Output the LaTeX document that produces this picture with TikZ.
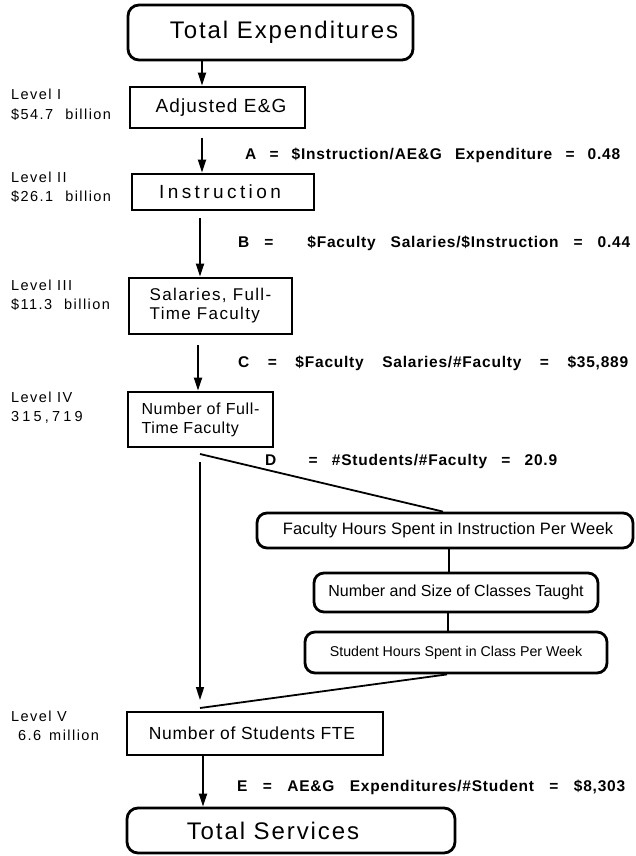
\documentclass[tikz,border=0pt]{standalone}
\usepackage{fontspec}
\setmainfont{Liberation Sans}
\usetikzlibrary{arrows.meta}
\newcommand\fsz[2]{\fontsize{#1}{#2}\selectfont}
\newcommand\lsp[1]{\addfontfeatures{LetterSpace=#1}}
\begin{document}
\begin{tikzpicture}[x=1pt,y=-1pt,
  box/.style={draw, line width=2.8pt, inner sep=0pt},
  rbox/.style={box, rounded corners=11pt},
  arr/.style={line width=2pt, -{Triangle[length=13pt,width=8pt]}},
  conn/.style={line width=1.8pt},
  thinconn/.style={line width=1.3pt},
  lvl/.style={anchor=west, inner sep=0pt, align=left, font=\fsz{14.5}{19.5}\lsp{10}},
  eq/.style={anchor=west, inner sep=0pt, font=\fsz{15.5}{18}\bfseries\lsp{5}}]
\useasboundingbox (0,0) rectangle (635,856);

% main boxes
\node[rbox, minimum width=285pt, minimum height=55pt, font=\fsz{24}{28}\lsp{8}] (te) at (270.5,32.5)
  {\hspace*{27pt}Total Expenditures};
\node[box, minimum width=175pt, minimum height=41pt, font=\fsz{19}{22}\lsp{6}] (adj) at (217.5,107.5)
  {\hspace*{7pt}Adjusted E\&G};
\node[box, minimum width=182pt, minimum height=36pt, font=\fsz{19}{22}\lsp{18}] (instr) at (223,192)
  {Instruction\hspace*{6pt}};
\node[box, minimum width=163pt, minimum height=56pt, align=left, font=\fsz{17}{19}\lsp{8}] (sal) at (210.5,306)
  {Salaries, Full-\\Time Faculty};
\node[box, minimum width=145pt, minimum height=55pt, align=left, font=\fsz{16}{19}\lsp{4}] (nftf) at (200.5,419.5)
  {Number of Full-\\Time Faculty};
\node[rbox, rounded corners=10pt, minimum width=376pt, minimum height=35pt, font=\fsz{16.5}{19}\lsp{1}] (fh) at (445,530.5)
  {\hspace*{6pt}Faculty Hours Spent in Instruction Per Week};
\node[rbox, rounded corners=10pt, minimum width=284pt, minimum height=39pt, font=\fsz{16}{19}] (ns) at (456,592.5)
  {Number and Size of Classes Taught};
\node[rbox, rounded corners=10pt, minimum width=302pt, minimum height=41pt, font=\fsz{14.2}{17}] (sh) at (456,652.5)
  {Student Hours Spent in Class Per Week};
\node[box, minimum width=256pt, minimum height=43pt, font=\fsz{17.5}{20}\lsp{4}] (nos) at (255,733.5)
  {Number of Students FTE\hspace*{6pt}};
\node[rbox, minimum width=328pt, minimum height=45pt, font=\fsz{24}{28}\lsp{8}] (ts) at (291,830.5)
  {Total Services\hspace*{36pt}};

% level labels
\node[lvl] (lv1) at (11,104.5) {Level I\\\$54.7\hspace{12pt}billion};
\node[lvl] (lv2) at (11,187) {Level II\\\$26.1\hspace{12pt}billion};
\node[lvl] (lv3) at (11,295) {Level III\\\$11.3\hspace{12pt}billion};
\node[lvl] (lv4) at (11,407.5) {Level IV\\{\lsp{22}315,719}};
\node[lvl] (lv5) at (11,726) {Level V\\\hspace*{7pt}6.6\hspace{8pt}million};

% ratio labels
\node[eq] (la) at (245,155) {\makebox[375pt][s]{A = \$Instruction/AE\&G Expenditure = 0.48}};
\node[eq] (lb) at (238,243) {\makebox[392pt][s]{B = \hspace{4pt} \$Faculty Salaries/\$Instruction = 0.44}};
\node[eq] (lc) at (238,363) {\makebox[390pt][s]{C = \$Faculty Salaries/\#Faculty = \$35,889}};
\node[eq] (ld) at (265,461) {\makebox[292pt][s]{D \hspace{4pt} = \#Students/\#Faculty = 20.9}};
\node[eq] (le) at (237,787) {\makebox[388pt][s]{E = AE\&G Expenditures/\#Student = \$8,303}};

% connector coordinates
\coordinate (c1) at (202,0);
\coordinate (a2s) at (202,138);
\coordinate (a3s) at (200,218);
\coordinate (a4s) at (198,345);
\coordinate (a5s) at (200,462);
\coordinate (a5e) at (200,700);
\coordinate (c6) at (203,0);
\coordinate (d1) at (200,454);
\coordinate (d1e) at (443,0);
\coordinate (cx1) at (449,0);
\coordinate (cx2) at (448,0);
\coordinate (cx3) at (447,0);
\coordinate (d2) at (200,708);

% arrows
\draw[arr] (te.south -| c1) -- (adj.north -| c1);
\draw[arr] (a2s) -- (instr.north -| a2s);
\draw[arr] (a3s) -- (sal.north -| a3s);
\draw[arr] (a4s) -- (nftf.north -| a4s);
\draw[arr, line width=1.6pt] (a5s) -- (a5e);
\draw[arr] (nos.south -| c6) -- (ts.north -| c6);

% other connectors
\draw[conn] (d1) -- (fh.north -| d1e);
\draw[thinconn] (fh.south -| cx1) -- (ns.north -| cx1);
\draw[thinconn] (ns.south -| cx2) -- (sh.north -| cx2);
\draw[conn] (sh.south -| cx3) -- (d2);
\end{tikzpicture}
\end{document}
